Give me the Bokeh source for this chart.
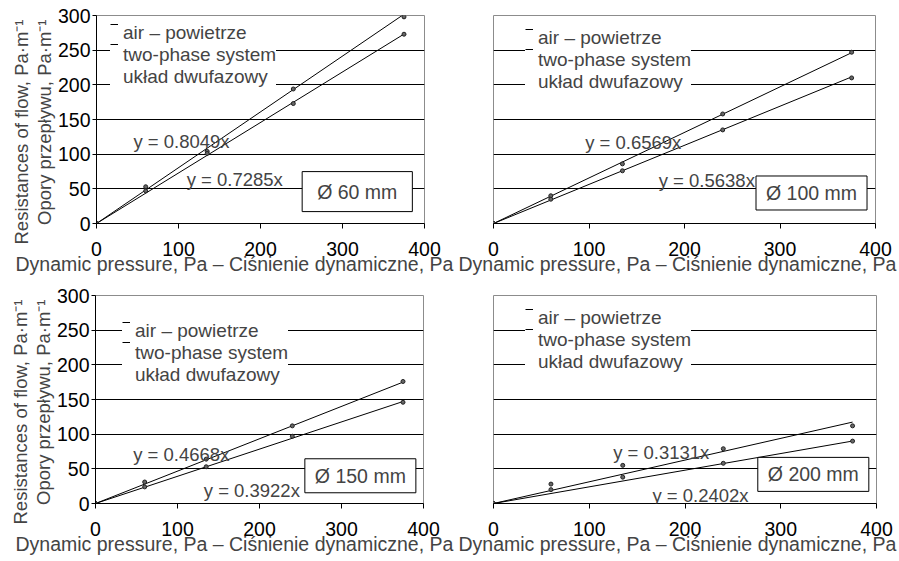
from bokeh.plotting import figure
from bokeh.models import Legend, LegendItem, Label, Title, FixedTicker, Range1d
from bokeh.layouts import column, row
from bokeh.embed import file_html
from bokeh.resources import INLINE

# ---------------- data ----------------
dyn_pressure = [0, 60, 135, 240, 375]          # Pa

# series drawn with the steeper trend line (upper) and the flatter one (lower)
upper_60 = [0, 53, 104, 194, 298]
lower_60 = [0, 47, 101, 173, 273]
upper_100 = [0, 40, 86, 158, 247]
lower_100 = [0, 35, 76, 135, 210]
upper_150 = [0, 31, 64, 112, 176]
lower_150 = [0, 24, 53, 97, 146]
upper_200 = [0, 28, 55, 79, 112]
lower_200 = [0, 20, 38, 58, 90]

slopes_upper = [0.8049, 0.6569, 0.4668, 0.3131]
slopes_lower = [0.7285, 0.5638, 0.3922, 0.2402]
diameters = ["Ø 60 mm", "Ø 100 mm", "Ø 150 mm", "Ø 200 mm"]

x_ticks = [0, 100, 200, 300, 400]
y_ticks = [0, 50, 100, 150, 200, 250, 300]
grid_ticks = [50, 100, 150, 200, 250]

legend_labels = ["air – powietrze", "two-phase system", "układ dwufazowy"]
x_label = "Dynamic pressure, Pa – Ciśnienie dynamiczne, Pa"
y_label_en = "Resistances of flow, Pa·m⁻¹"
y_label_pl = "Opory przepływu, Pa·m⁻¹"

FONT = "Liberation Sans"
FS = "19.5px"


def make_panel(idx, upper, lower, width, height, b_left, b_right, b_bottom,
               show_y, xlabel_offset, eq_upper_pos, eq_lower_pos, diam_pos,
               diam_pad, legend_loc):
    p = figure(width=width, height=height, x_range=Range1d(0, 400),
               y_range=Range1d(0, 300), output_backend="svg",
               toolbar_location=None, min_border_left=b_left,
               min_border_right=b_right, min_border_top=15,
               min_border_bottom=b_bottom)
    p.background_fill_color = "white"
    p.border_fill_color = "white"
    p.outline_line_color = "#8c8c8c"
    p.outline_line_width = 1

    # x axis
    p.xaxis.ticker = FixedTicker(ticks=x_ticks)
    p.xaxis.axis_line_color = "black"
    p.xaxis.major_tick_line_color = "black"
    p.xaxis.major_tick_in = 0
    p.xaxis.major_tick_out = 5
    p.xaxis.minor_tick_line_color = None
    p.xaxis.major_label_text_font = FONT
    p.xaxis.major_label_text_font_size = FS
    p.xaxis.major_label_text_color = "black"
    p.xaxis.major_label_standoff = 13

    # y axis
    if show_y:
        p.yaxis.ticker = FixedTicker(ticks=y_ticks)
        p.yaxis.axis_line_color = "black"
        p.yaxis.major_tick_line_color = "black"
        p.yaxis.major_tick_in = 0
        p.yaxis.major_tick_out = 4
        p.yaxis.minor_tick_line_color = None
        p.yaxis.major_label_text_font = FONT
        p.yaxis.major_label_text_font_size = FS
        p.yaxis.major_label_text_color = "black"
        p.yaxis.major_label_standoff = 2
        for txt in (y_label_pl, y_label_en):
            p.add_layout(Title(text=txt, align="right", offset=4,
                               text_font=FONT, text_font_size="18.5px",
                               text_font_style="normal", standoff=0), "left")
    else:
        p.yaxis.visible = False

    p.add_layout(Title(text=x_label, align="left", offset=xlabel_offset,
                       vertical_align="top", text_font=FONT,
                       text_font_size=FS, text_font_style="normal",
                       standoff=-12), "below")

    # grid
    p.xgrid.visible = False
    p.ygrid.ticker = FixedTicker(ticks=grid_ticks)
    p.ygrid.grid_line_color = "black"
    p.ygrid.grid_line_width = 1

    # trend lines
    x_fit = [0, max(dyn_pressure)]
    ru = p.line(x_fit, [slopes_upper[idx] * v for v in x_fit],
                line_color="black", line_width=1)
    rl = p.line(x_fit, [slopes_lower[idx] * v for v in x_fit],
                line_color="black", line_width=1)
    # measured points
    p.scatter(dyn_pressure, upper, marker="circle", size=4,
              fill_color="#666666", line_color="#222222")
    p.scatter(dyn_pressure, lower, marker="circle", size=4,
              fill_color="#666666", line_color="#222222")

    # trendline equations
    p.add_layout(Label(x=eq_upper_pos[0], y=eq_upper_pos[1],
                       text=f"y = {slopes_upper[idx]:.4f}x",
                       text_font=FONT, text_font_size="18.5px",
                       text_baseline="middle", text_align="left"))
    p.add_layout(Label(x=eq_lower_pos[0], y=eq_lower_pos[1],
                       text=f"y = {slopes_lower[idx]:.4f}x",
                       text_font=FONT, text_font_size="18.5px",
                       text_baseline="middle", text_align="left"))
    # diameter box
    p.add_layout(Label(x=diam_pos[0], y=diam_pos[1], text=diameters[idx],
                       text_font=FONT, text_font_size=FS,
                       text_baseline="middle", text_align="center",
                       background_fill_color="white",
                       border_line_color="black", border_line_width=1,
                       padding=diam_pad))

    # legend: text block (white box) ...
    blank = p.line([], [], line_alpha=0)
    common = dict(padding=6, spacing=0, glyph_width=8, glyph_height=20,
                  label_standoff=5, label_height=20, margin=0,
                  border_line_color=None, label_text_font=FONT,
                  label_text_font_size="19px")
    legend = Legend(items=[LegendItem(label=t, renderers=[blank])
                           for t in legend_labels],
                    location=legend_loc, background_fill_color="white",
                    background_fill_alpha=1.0, **common)
    p.add_layout(legend)
    # ... and the series keys, sitting at the top of their rows
    keys = Legend(items=[LegendItem(label=" ", renderers=[ru]),
                         LegendItem(label=" ", renderers=[rl])],
                  location=(legend_loc[0], legend_loc[1] + 34),
                  background_fill_alpha=0.0, **common)
    p.add_layout(keys)
    return p


p1 = make_panel(0, upper_60, lower_60, 458, 280, 96, 34, 56, True, -81,
                (45, 118), (110, 64), (318, 46), dict(x=15, y=9), (14, 135))
p2 = make_panel(1, upper_100, lower_100, 441, 280, 35, 24, 57, False, -35,
                (96, 117), (173, 62), (333, 44), dict(x=10, y=6), (32, 130))
p3 = make_panel(2, upper_150, lower_150, 458, 281, 95, 35, 56, True, -80,
                (46, 71), (132, 19), (323, 40), dict(x=10, y=6), (27, 117))
p4 = make_panel(3, upper_200, lower_200, 441, 281, 35, 23, 58, False, -35,
                (125, 74), (166, 11.5), (334, 42), dict(x=10, y=6), (32, 130))

layout = column(row(p1, p2, spacing=0), row(p3, p4, spacing=0), spacing=0)
open("out.html", "w").write(file_html(layout, INLINE))
